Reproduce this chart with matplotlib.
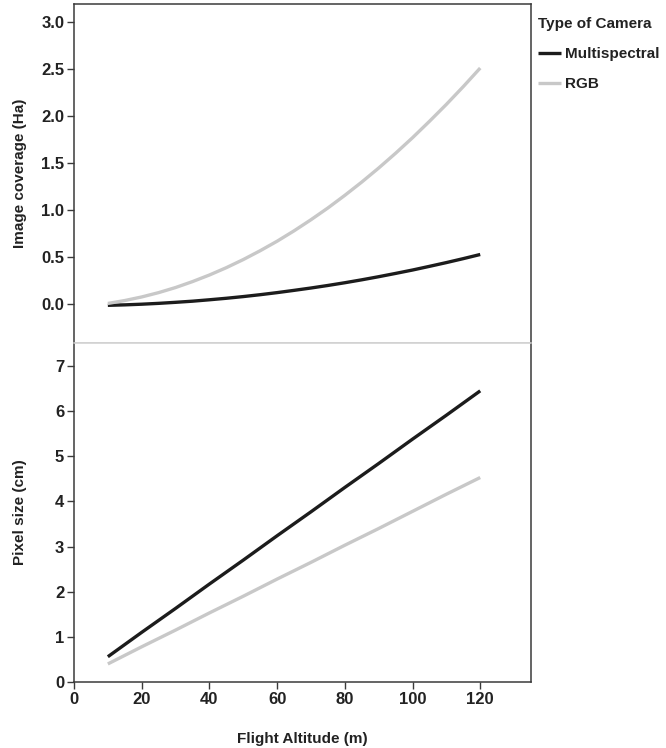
import matplotlib
matplotlib.use("Agg")
import matplotlib.pyplot as plt

plt.rcParams['font.family'] = ['Liberation Sans', 'DejaVu Sans']
plt.rcParams['font.weight'] = 'bold'

altitude = [10, 15, 20, 25, 30, 35, 40, 45, 50, 55, 60, 65, 70, 75, 80, 85, 90, 95, 100, 105, 110, 115, 120]
coverage_multispectral = [-0.010, -0.005, 0.002, 0.011, 0.022, 0.034, 0.049, 0.065, 0.083, 0.103, 0.125, 0.149,
                          0.174, 0.201, 0.230, 0.261, 0.294, 0.329, 0.365, 0.404, 0.444, 0.486, 0.530]
coverage_rgb = [0.010, 0.041, 0.079, 0.125, 0.179, 0.242, 0.312, 0.390, 0.476, 0.570, 0.671, 0.781,
                0.899, 1.024, 1.158, 1.299, 1.448, 1.605, 1.770, 1.944, 2.124, 2.313, 2.510]
altitude_px = [10, 20, 30, 40, 50, 60, 70, 80, 90, 100, 110, 120]
pixel_multispectral = [0.56, 1.10, 1.63, 2.17, 2.70, 3.24, 3.77, 4.31, 4.84, 5.38, 5.91, 6.45]
pixel_rgb = [0.40, 0.78, 1.15, 1.53, 1.90, 2.28, 2.65, 3.03, 3.40, 3.78, 4.16, 4.53]
series_names = ["Multispectral", "RGB"]
top_yticks = [0.0, 0.5, 1.0, 1.5, 2.0, 2.5, 3.0]
bottom_yticks = [0, 1, 2, 3, 4, 5, 6, 7]
xticks = [0, 20, 40, 60, 80, 100, 120]

black = "#1c1c1c"
gray = "#c8c8c8"
spine_col = "#3a3a3a"
txt = "#222222"
tick_fs = 12
lab_fs = 11

fig = plt.figure(figsize=(6.66, 7.48), dpi=100)
W, H = 666, 748
left, right = 74 / W, 531 / W
ax1 = fig.add_axes([left, 1 - 343 / H, right - left, (343 - 4) / H])
ax2 = fig.add_axes([left, 1 - 682 / H, right - left, (682 - 343) / H])

ax1.plot(altitude, coverage_multispectral, color=black, lw=2.4, label=series_names[0], solid_capstyle='butt')
ax1.plot(altitude, coverage_rgb, color=gray, lw=2.4, label=series_names[1], solid_capstyle='butt')
ax2.plot(altitude_px, pixel_multispectral, color=black, lw=2.4, solid_capstyle='butt')
ax2.plot(altitude_px, pixel_rgb, color=gray, lw=2.4, solid_capstyle='butt')

for ax in (ax1, ax2):
    ax.set_xlim(0, 135)
    for s in ax.spines.values():
        s.set_color(spine_col)
        s.set_linewidth(1.1)
    ax.tick_params(axis='both', direction='out', length=5, width=1, color=spine_col,
                   labelsize=tick_fs, labelcolor=txt, pad=2)

ax1.set_ylim(-0.41, 3.19)
ax1.set_yticks(top_yticks)
ax1.set_yticklabels([f"{v:.1f}" for v in top_yticks])
ax1.set_xticks([])
ax1.spines['bottom'].set_color("#d0d0d0")
ax1.set_ylabel("Image coverage (Ha)", fontsize=lab_fs, fontweight='bold', color=txt)
ax1.yaxis.set_label_coords((20 - 74) / 457, 0.5)
ax1.yaxis.label.set_va('center')

ax2.set_ylim(0, 7.51)
ax2.set_yticks(bottom_yticks)
ax2.set_xticks(xticks)
ax2.spines['top'].set_color("#d0d0d0")
ax2.set_ylabel("Pixel size (cm)", fontsize=lab_fs, fontweight='bold', color=txt)
ax2.yaxis.set_label_coords((20 - 74) / 457, 0.5)
ax2.yaxis.label.set_va('center')
ax2.set_xlabel("Flight Altitude (m)", fontsize=lab_fs, fontweight='bold', color=txt)
ax2.xaxis.set_label_coords(0.5, -(739 - 682) / 339)
ax2.xaxis.label.set_va('center')

h, l = ax1.get_legend_handles_labels()
leg = fig.legend(h, l, loc='upper left', bbox_to_anchor=(538 / W, 1 - 17 / H),
                 bbox_transform=fig.transFigure, frameon=False, borderpad=0, borderaxespad=0,
                 title="Type of Camera", alignment='left', fontsize=lab_fs,
                 handlelength=1.5, handletextpad=0.25, labelspacing=1.05,
                 title_fontproperties={'weight': 'bold', 'size': lab_fs})
for t in leg.get_texts():
    t.set_color(txt)
leg.get_title().set_color(txt)

fig.savefig("out.png", dpi=100)
